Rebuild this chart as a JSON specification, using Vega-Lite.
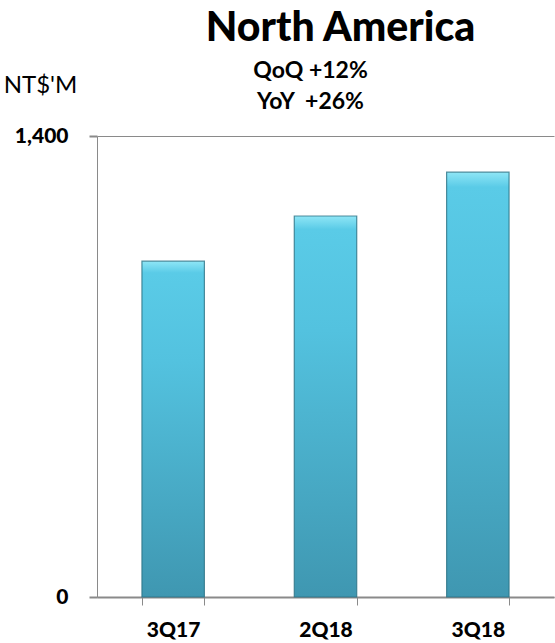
{
  "$schema": "https://vega.github.io/schema/vega-lite/v6.json",
  "autosize": {"type": "none"},
  "padding": {"left": 97, "top": 136, "right": 1, "bottom": 46},
  "width": 457,
  "height": 461,
  "background": "white",
  "title": {
    "text": "North America",
    "anchor": "middle",
    "frame": "group",
    "dx": 15,
    "dy": -5,
    "font": "Lato",
    "fontSize": 41,
    "fontWeight": 900,
    "color": "#000000"
  },
  "data": {
    "values": [
      {"quarter": "3Q17", "revenue": 1020},
      {"quarter": "2Q18", "revenue": 1157},
      {"quarter": "3Q18", "revenue": 1290}
    ]
  },
  "mark": {
    "type": "bar",
    "color": {
      "gradient": "linear",
      "x1": 0, "y1": 0, "x2": 0, "y2": 1,
      "stops": [
        {"offset": 0, "color": "#8FE6F6"},
        {"offset": 0.035, "color": "#5ACBE7"},
        {"offset": 0.3, "color": "#53C2DF"},
        {"offset": 1, "color": "#3F97B1"}
      ]
    },
    "stroke": "#2A7285",
    "strokeWidth": 1.2,
    "strokeOpacity": 0.8
  },
  "encoding": {
    "x": {
      "field": "quarter",
      "type": "nominal",
      "sort": ["3Q17", "2Q18", "3Q18"],
      "scale": {"paddingInner": 0.59, "paddingOuter": 0.295},
      "axis": {
        "title": ["QoQ +12%", "YoY\u00a0\u00a0+26%"],
        "titleX": 213,
        "titleY": -520,
        "titleAlign": "center",
        "titleBaseline": "alphabetic",
        "titleLineHeight": 31,
        "titleFont": "Lato",
        "titleFontSize": 23,
        "titleFontWeight": "bold",
        "titleColor": "#000000",
        "labelAngle": 0,
        "labelFont": "Lato",
        "labelFontSize": 21,
        "labelFontWeight": 900,
        "labelColor": "#000000",
        "labelPadding": 14,
        "domainColor": "#8A8A8A",
        "domainWidth": 2,
        "tickColor": "#8A8A8A",
        "tickWidth": 1,
        "tickSize": 8,
        "tickBand": "extent"
      }
    },
    "y": {
      "field": "revenue",
      "type": "quantitative",
      "scale": {"domain": [0, 1400], "nice": false},
      "axis": {
        "title": "NT$'M",
        "titleAngle": 0,
        "titleX": -57,
        "titleY": -44,
        "titleAlign": "center",
        "titleBaseline": "alphabetic",
        "titleFont": "Lato",
        "titleFontSize": 24,
        "titleFontWeight": "normal",
        "titleColor": "#000000",
        "values": [0, 1400],
        "format": ",d",
        "labelFont": "Lato",
        "labelFontSize": 21,
        "labelFontWeight": 900,
        "labelColor": "#000000",
        "labelPadding": 21,
        "domainColor": "#8A8A8A",
        "domainWidth": 1,
        "tickColor": "#8A8A8A",
        "tickWidth": 2,
        "tickSize": 8,
        "grid": true,
        "gridColor": "#8A8A8A",
        "gridWidth": 1
      }
    }
  },
  "config": {"view": {"stroke": null}}
}
